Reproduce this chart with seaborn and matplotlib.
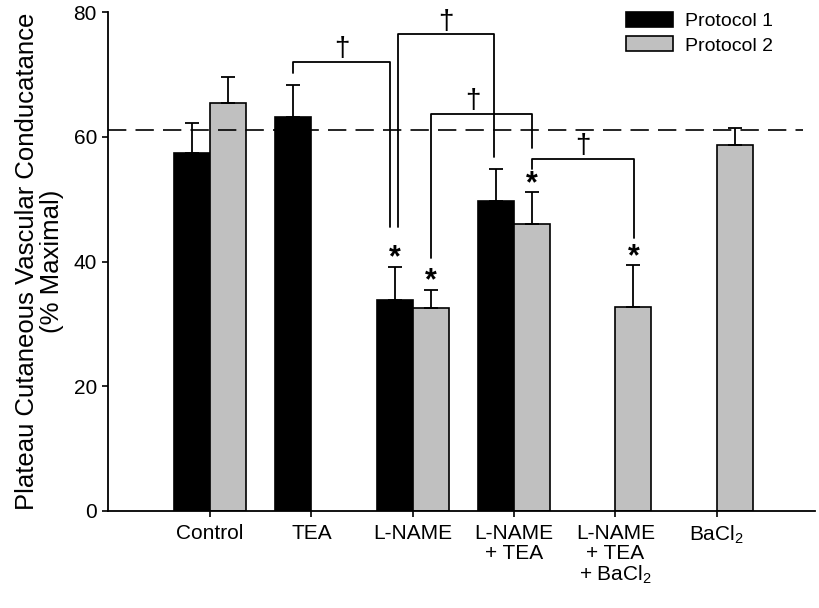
import numpy as np
import pandas as pd
import seaborn as sns
import matplotlib.pyplot as plt

# Werte (Mittelwert + SEM)
treatments = ['Control', 'TEA', 'L-NAME', 'L-NAME+TEA', 'L-NAME+TEA+BaCl2', 'BaCl2']
tick_labels = ['Control', 'TEA', 'L-NAME', 'L-NAME\n+ TEA', 'L-NAME\n+ TEA\n+ BaCl$_2$', 'BaCl$_2$']
protocols = ['Protocol 1', 'Protocol 2']
p1_mean = [57.5, 63.2, 33.9, 49.7, np.nan, np.nan]
p1_sem = [4.8, 5.2, 5.3, 5.2, np.nan, np.nan]
p2_mean = [65.4, np.nan, 32.5, 46.1, 32.8, 58.7]
p2_sem = [4.2, np.nan, 3.0, 5.0, 6.6, 2.8]
ref_line = 61.1

# * = signifikant vs. Control
stars = [('L-NAME', 'Protocol 1'), ('L-NAME', 'Protocol 2'),
         ('L-NAME+TEA', 'Protocol 2'), ('L-NAME+TEA+BaCl2', 'Protocol 2')]
# † Klammern: linker Balken, rechter Balken, Höhe links, Höhe oben, Höhe rechts
brackets = [
    (('TEA', 'Protocol 1'), ('L-NAME', 'Protocol 1'), 70.3, 72.1, 45.6),
    (('L-NAME', 'Protocol 1'), ('L-NAME+TEA', 'Protocol 1'), 45.6, 76.5, 56.8),
    (('L-NAME', 'Protocol 2'), ('L-NAME+TEA', 'Protocol 2'), 40.6, 63.7, 58.2),
    (('L-NAME+TEA', 'Protocol 2'), ('L-NAME+TEA+BaCl2', 'Protocol 2'), 54.9, 56.5, 43.8),
]
bracket_dx = [(0, -0.05), (0.035, -0.02), (0, 0), (0, 0.01)]
dagger_dx = [0, 0, -0.08, 0]

rows = []
for i, t in enumerate(treatments):
    for proto, means, sems in [('Protocol 1', p1_mean, p1_sem), ('Protocol 2', p2_mean, p2_sem)]:
        if not np.isnan(means[i]):
            rows.append({'Treatment': t, 'Protocol': proto, 'Mean': means[i], 'SEM': sems[i]})
df = pd.DataFrame(rows)

sns.set_style('ticks')
plt.rcParams['font.family'] = ['Liberation Sans', 'DejaVu Sans']
plt.rcParams['mathtext.fontset'] = 'custom'
plt.rcParams['mathtext.rm'] = 'Liberation Sans'
plt.rcParams['mathtext.it'] = 'Liberation Sans:italic'
plt.rcParams['axes.linewidth'] = 1.3
for k in ['text.color', 'axes.labelcolor', 'xtick.color', 'ytick.color', 'axes.edgecolor']:
    plt.rcParams[k] = 'black'

fig = plt.figure(figsize=(8.19, 6.08), dpi=100)
ax = fig.add_axes([108 / 819, 1 - 511 / 608, 707 / 819, (511 - 12.3) / 608])

sns.barplot(data=df, x='Treatment', y='Mean', hue='Protocol', order=treatments, hue_order=protocols,
            palette=['black', '#c0c0c0'], saturation=1, edgecolor='black', linewidth=1.2,
            width=0.71, errorbar=None, ax=ax)

# Balkenmitten aus den gezeichneten Balken holen
centers = {}
for cont, proto in zip(ax.containers, protocols):
    for bar in cont:
        if np.isnan(bar.get_height()):
            continue
        xc = bar.get_x() + bar.get_width() / 2
        centers[(treatments[int(round(xc))], proto)] = xc

tops = {}
for _, r in df.iterrows():
    x = centers[(r.Treatment, r.Protocol)]
    ax.errorbar(x, r.Mean, yerr=[[0], [r.SEM]], fmt='none', ecolor='black',
                elinewidth=1.3, capsize=5, capthick=1.3)
    tops[(r.Treatment, r.Protocol)] = r.Mean + r.SEM

ax.axhline(ref_line, xmin=0, xmax=(803 - 108) / 707, color='black', lw=1.2, ls=(0, (11, 5.5)))

for (a, b, ya, ytop, yb), (dxa, dxb), ddx in zip(brackets, bracket_dx, dagger_dx):
    xa = centers[a] + dxa
    xb = centers[b] + dxb
    ax.plot([xa, xa, xb, xb], [ya, ytop, ytop, yb], color='black', lw=1.3, clip_on=False)
    ax.text((xa + xb) / 2 + ddx, ytop + 0.9, '†', ha='center', va='baseline', fontsize=20)

for key in stars:
    ax.text(centers[key], tops[key] + 0.1, '*', ha='center', va='baseline', fontsize=22,
            fontweight='bold')

ax.set_ylim(0, 80)
ax.set_yticks([0, 20, 40, 60, 80])
ax.set_xlim(-1.007, 5.97)
ax.set_xticks(range(len(treatments)))
ax.set_xticklabels(tick_labels)
ax.tick_params(axis='both', labelsize=15, length=4.5, width=1.2, direction='out')
ax.tick_params(axis='y', pad=3.5)
ax.tick_params(axis='x', pad=5)
for lab in ax.get_xticklabels():
    lab.set_linespacing(1.05)
ax.set_xlabel('')
ax.set_ylabel('Plateau Cutaneous Vascular Conducatance\n(% Maximal)', fontsize=18.5, linespacing=1.05)
ax.yaxis.set_label_coords(-0.062, 0.5)
sns.despine(ax=ax)

handles, labels = ax.get_legend_handles_labels()
ax.legend(handles, labels, loc='upper left', bbox_to_anchor=(0.733, 1.0), frameon=False, fontsize=14,
          handlelength=2.4, handleheight=0.8, handletextpad=0.6, labelspacing=0.3,
          borderpad=0, borderaxespad=0)

fig.savefig('out.png', dpi=100)
